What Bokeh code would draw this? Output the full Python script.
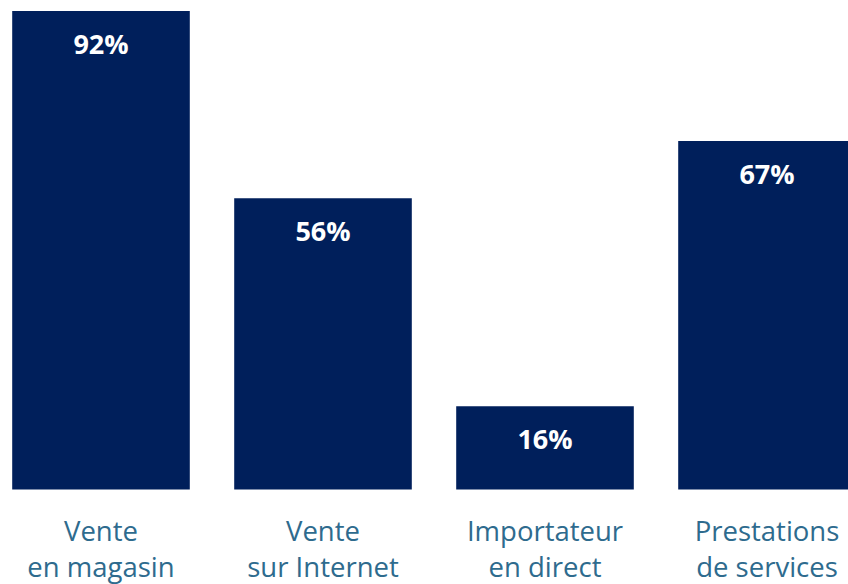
from bokeh.plotting import figure
from bokeh.models import Range1d, ColumnDataSource
from bokeh.core.properties import value
from bokeh.embed import file_html
from bokeh.resources import INLINE

categories = ["Vente\nen magasin", "Vente\nsur Internet", "Importateur\nen direct", "Prestations\nde services"]
values = [92, 56, 16, 67]
value_labels = [f"{v}%" for v in values]

line1 = [c.split("\n")[0] for c in categories]
line2 = [c.split("\n")[1] for c in categories]
xs = list(range(len(categories)))

BAR = "#001F5B"
LBL = "#2E6B8E"

p = figure(width=848, height=584, output_backend="svg", toolbar_location=None,
           x_range=Range1d(-0.4527, 3.3671), y_range=Range1d(-18.27, 94.02),
           min_border=0, min_border_left=0, min_border_right=0,
           min_border_top=0, min_border_bottom=0)
p.axis.visible = False
p.grid.visible = False
p.outline_line_color = None
p.background_fill_color = "white"
p.border_fill_color = "white"

src = ColumnDataSource(dict(x=xs, top=values, lab=value_labels, l1=line1, l2=line2,
                            zero=[0] * len(xs)))

p.vbar(x="x", top="top", bottom=0, width=0.8, source=src, fill_color=BAR, line_color=None)

p.text(x="x", y="top", text="lab", source=src, y_offset=32, text_align="center",
       text_baseline="middle", text_color="white", text_font=value("Open Sans"),
       text_font_style="bold", text_font_size="27px")

p.text(x="x", y="zero", text="l1", source=src, y_offset=41, text_align="center",
       text_baseline="middle", text_color=LBL, text_font=value("Open Sans"),
       text_font_size="27.5px")
p.text(x="x", y="zero", text="l2", source=src, y_offset=77, text_align="center",
       text_baseline="middle", text_color=LBL, text_font=value("Open Sans"),
       text_font_size="27.5px")

open("out.html", "w").write(file_html(p, INLINE))
